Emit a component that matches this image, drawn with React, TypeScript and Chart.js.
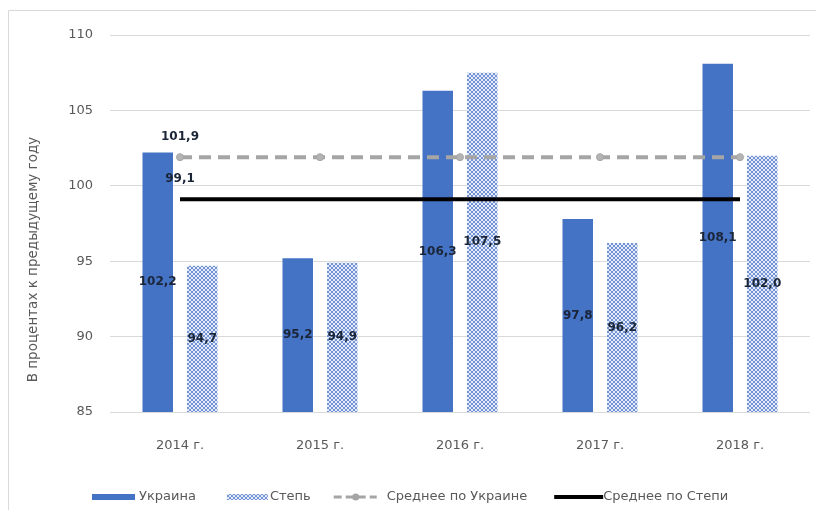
import React, { useEffect, useRef } from 'react';
import { Chart, registerables } from 'chart.js';
Chart.register(...registerables);

const categories = ['2014 г.', '2015 г.', '2016 г.', '2017 г.', '2018 г.'];
const ukraine = [102.2, 95.2, 106.3, 97.8, 108.1];
const steppe = [94.7, 94.9, 107.5, 96.2, 102.0];
const avgUkraine = [101.9, 101.9, 101.9, 101.9, 101.9];
const avgSteppe = [99.1, 99.1, 99.1, 99.1, 99.1];
const seriesNames = ['Украина', 'Степь', 'Среднее по Украине', 'Среднее по Степи'];
const yTitle = 'В процентах к предыдущему году';
const yMin = 85;
const yMax = 110;
const yStep = 5;

const FONT = "'DejaVu Sans', 'Liberation Sans', sans-serif";
const BLUE = '#4472c4';
const GREY = '#a5a5a5';
const TEXT = '#595959';
const LABEL = '#1b2538';

const fmt = (v: number) => v.toFixed(1).replace('.', ',');

function makePattern(): CanvasPattern | string {
  const c = document.createElement('canvas');
  c.width = 4;
  c.height = 4;
  const g = c.getContext('2d');
  if (!g) return '#a9bde5';
  g.fillStyle = '#e3eaf8';
  g.fillRect(0, 0, 4, 4);
  g.fillStyle = '#7393d4';
  for (let i = 0; i < 4; i++) {
    g.fillRect(i, i, 1, 1);
    g.fillRect(3 - i, i, 1, 1);
  }
  const p = g.createPattern(c, 'repeat');
  return p || '#a9bde5';
}

export default function App() {
  const ref = useRef<HTMLCanvasElement | null>(null);
  useEffect(() => {
    if (!ref.current) return;
    const pattern = makePattern();

    const framePlugin = {
      id: 'frame',
      beforeDraw(chart: any) {
        const ctx = chart.ctx;
        ctx.save();
        ctx.strokeStyle = '#d9d9d9';
        ctx.lineWidth = 1;
        ctx.beginPath();
        ctx.moveTo(0.5, chart.height);
        ctx.lineTo(0.5, 2.5);
        ctx.lineTo(chart.width, 2.5);
        ctx.stroke();
        ctx.restore();
      },
    };

    const labelPlugin = {
      id: 'labels',
      afterDatasetsDraw(chart: any) {
        const ctx = chart.ctx;
        const yScale = chart.scales.y;
        const basePx = yScale.getPixelForValue(yMin);
        ctx.save();
        ctx.font = `bold 12px ${FONT}`;
        ctx.fillStyle = LABEL;
        ctx.textAlign = 'center';
        ctx.textBaseline = 'middle';
        chart.data.datasets.forEach((ds: any, di: number) => {
          const meta = chart.getDatasetMeta(di);
          meta.data.forEach((el: any, i: number) => {
            const v = ds.data[i];
            const px = yScale.getPixelForValue(v);
            if (ds.type === 'line') {
              if (i !== 0) return;
              ctx.fillText(fmt(v), el.x, px - 20);
            } else {
              ctx.fillText(fmt(v), el.x, (px + basePx) / 2);
            }
          });
        });
        ctx.restore();
      },
    };

    const extrasPlugin = {
      id: 'extras',
      afterDraw(chart: any) {
        const ctx = chart.ctx;
        ctx.save();
        ctx.font = `13.5px ${FONT}`;
        ctx.fillStyle = TEXT;
        ctx.textAlign = 'center';
        ctx.textBaseline = 'middle';
        ctx.translate(25, (chart.chartArea.top + chart.chartArea.bottom) / 2 + 36);
        ctx.rotate(-Math.PI / 2);
        ctx.fillText(yTitle, 0, 0);
        ctx.restore();

        ctx.save();
        ctx.font = `13px ${FONT}`;
        ctx.textBaseline = 'middle';
        ctx.textAlign = 'left';
        const y = 489;
        let x = 84;
        const gap = 27;
        ctx.fillStyle = BLUE;
        ctx.fillRect(x, y - 3, 43, 6);
        x += 47;
        ctx.fillStyle = TEXT;
        ctx.fillText(seriesNames[0], x, y);
        x += ctx.measureText(seriesNames[0]).width + gap + 4;
        ctx.fillStyle = pattern as any;
        ctx.fillRect(x, y - 3, 41, 6);
        x += 43;
        ctx.fillStyle = TEXT;
        ctx.fillText(seriesNames[1], x, y);
        x += ctx.measureText(seriesNames[1]).width + gap - 4;
        ctx.strokeStyle = GREY;
        ctx.lineWidth = 3;
        ctx.setLineDash([8, 4]);
        ctx.beginPath();
        ctx.moveTo(x, y);
        ctx.lineTo(x + 43, y);
        ctx.stroke();
        ctx.setLineDash([]);
        ctx.fillStyle = GREY;
        ctx.beginPath();
        ctx.arc(x + 22, y, 3.5, 0, Math.PI * 2);
        ctx.fill();
        x += 53;
        ctx.fillStyle = TEXT;
        ctx.fillText(seriesNames[2], x, y);
        x += ctx.measureText(seriesNames[2]).width + gap;
        ctx.strokeStyle = '#000000';
        ctx.lineWidth = 4;
        ctx.beginPath();
        ctx.moveTo(x, y);
        ctx.lineTo(x + 49, y);
        ctx.stroke();
        x += 49;
        ctx.fillStyle = TEXT;
        ctx.fillText(seriesNames[3], x, y);
        ctx.restore();
      },
    };

    const chart = new Chart(ref.current, {
      data: {
        labels: categories,
        datasets: [
          {
            type: 'bar',
            label: seriesNames[0],
            data: ukraine,
            backgroundColor: BLUE,
            categoryPercentage: 0.636,
            barPercentage: 0.685,
            order: 2,
          } as any,
          {
            type: 'bar',
            label: seriesNames[1],
            data: steppe,
            backgroundColor: pattern,
            categoryPercentage: 0.636,
            barPercentage: 0.685,
            order: 2,
          } as any,
          {
            type: 'line',
            label: seriesNames[2],
            data: avgUkraine,
            borderColor: GREY,
            borderWidth: 4,
            borderDash: [12, 7],
            pointRadius: 3.5,
            pointBackgroundColor: '#b4b4b4',
            pointBorderColor: GREY,
            pointBorderWidth: 1,
            fill: false,
            tension: 0,
            order: 1,
          } as any,
          {
            type: 'line',
            label: seriesNames[3],
            data: avgSteppe,
            borderColor: '#000000',
            borderWidth: 4,
            pointRadius: 0,
            fill: false,
            tension: 0,
            order: 1,
          } as any,
        ],
      },
      options: {
        animation: false,
        responsive: true,
        maintainAspectRatio: false,
        layout: { padding: { top: 27, right: 6, left: 0, bottom: 0 } },
        plugins: {
          legend: { display: false },
          tooltip: { enabled: false },
        },
        scales: {
          x: {
            grid: { display: false },
            border: { display: false },
            ticks: { color: TEXT, font: { family: FONT, size: 13 }, padding: 18 },
            afterFit: (s: any) => {
              s.height = 98;
            },
          },
          y: {
            min: yMin,
            max: yMax,
            grid: { color: '#d9d9d9', drawTicks: false },
            border: { display: false },
            ticks: {
              stepSize: yStep,
              color: TEXT,
              font: { family: FONT, size: 13 },
              padding: 17,
            },
            afterFit: (s: any) => {
              s.width = 102;
            },
          },
        },
      } as any,
      plugins: [framePlugin, labelPlugin, extrasPlugin],
    });
    return () => chart.destroy();
  }, []);

  return (
    <div style={{ width: 808, height: 502, position: 'relative' }}>
      <canvas ref={ref} />
    </div>
  );
}
